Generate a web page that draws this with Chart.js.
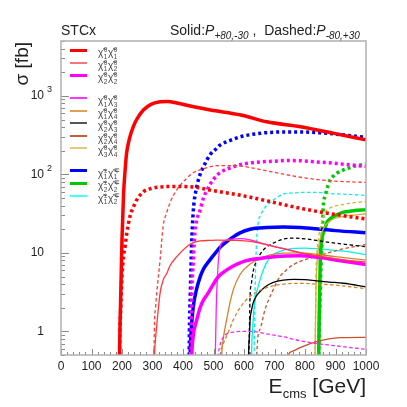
<!DOCTYPE html>
<html><head><meta charset="utf-8">
<script src="https://cdn.jsdelivr.net/npm/chart.js@4.4.1/dist/chart.umd.min.js"></script>
<style>
body{margin:0;background:#fff}
#wrap{position:relative;width:407px;height:407px;font-family:"Liberation Sans",Arial,Helvetica,sans-serif;color:#222;overflow:hidden}
canvas{position:absolute;left:0;top:0}
.t{position:absolute;white-space:nowrap}
.lg{position:absolute;left:70px;width:17px}
.ll{position:absolute;left:98px;font-size:10px;line-height:10px;color:#444;white-space:nowrap}
.chi{display:inline-block;position:relative}
.ss{display:inline-flex;flex-direction:column;font-size:6.5px;line-height:6.5px;vertical-align:middle;margin-left:0.5px;margin-right:0.5px;text-align:left}
</style></head><body>
<div id="wrap">
<canvas id="c" width="407" height="407"></canvas>
<div class="t" style="left:61px;top:23px;font-size:14px;line-height:14px">STCx</div>
<div class="t" style="left:170px;top:23px;font-size:14px;line-height:14px">Solid:<i>P</i><span style="font-size:10px;font-style:italic;position:relative;top:4px">+80,-30</span> ,&nbsp;&nbsp;Dashed:<i>P</i><span style="font-size:10px;font-style:italic;position:relative;top:4px">-80,+30</span></div>
<div class="t" style="left:12px;top:112px;width:70px;text-align:right;font-size:19px;line-height:19px;transform:rotate(-90deg);transform-origin:0 0">σ [fb]</div>
<div class="t" style="right:41px;top:375px;font-size:21px;line-height:21px">E<span style="font-size:13px;position:relative;top:5px">cms</span> [GeV]</div>
<div id="legend"></div>
</div>
<script>
// ---------------- data ----------------
const E_N11 = [190, 192, 196, 200, 205, 210, 215, 226, 237, 248, 270, 295, 325, 350, 380, 435, 490, 590, 675, 785, 895, 1000];
const S_N11_SOLID = [0.05, 0.5, 3, 15, 55, 110, 185, 300, 405, 500, 660, 780, 840, 850, 810, 725, 660, 570, 467, 404, 333, 275];
const S_N11_DASHED = [0.05, 0.5, 2, 5, 9, 12, 17, 29, 38, 47, 60, 66, 69, 70, 70, 69, 63, 54, 46, 37, 31, 27];

const E_N12 = [303, 306, 310, 314, 325, 335, 347, 357, 379, 412, 434, 456, 489, 511, 576, 620, 700, 800, 900, 1000];
const S_N12_SOLID = [0.05, 0.4, 0.8, 1.2, 3.1, 4.5, 5.5, 6.8, 8.9, 12, 13.5, 14.2, 14.4, 14.5, 14.4, 14, 12, 9.8, 8.4, 7.6];
const S_N12_DASHED = [0.05, 1, 2, 3.1, 8.2, 22, 33, 43, 63, 89, 105, 114, 125, 129, 129, 122, 106, 90, 82, 79];

const E_N22 = [424, 428, 434, 439, 445, 456, 467, 478, 489, 511, 521, 565, 600, 652, 700, 740, 784, 850, 900, 1000];
const S_N22_SOLID = [0.05, 0.4, 0.9, 1.15, 1.4, 2.0, 2.5, 2.9, 3.4, 4.7, 5.2, 6.8, 7.8, 8.5, 8.9, 9.1, 9.2, 8.7, 8.1, 7.1];
const S_N22_DASHED = [0.05, 1.9, 8.1, 18, 26, 35, 50, 62, 75, 97, 105, 125, 136, 144, 147, 150, 149, 143, 138, 126];

const E_N13 = [503, 506, 509, 513, 516, 520, 523, 533, 543, 565, 587, 620, 674, 730, 784, 838, 893, 1000];
const S_N13_SOLID = [0.05, 0.5, 2, 5, 8, 11, 12.5, 14, 14.6, 15, 15.2, 14.6, 12.7, 11.3, 10, 9, 8.2, 7.1];
const S_N13_DASHED = [0.05, 0.05, 0.05, 0.2, 0.5, 0.62, 0.71, 0.85, 0.93, 0.98, 1.0, 1.0, 0.93, 0.85, 0.76, 0.7, 0.66, 0.59];

const E_N14 = [520, 524, 527, 532, 543, 554, 565, 587, 620, 674, 730, 784, 838, 893, 1000];
const S_N14_SOLID = [0.05, 0.2, 0.5, 0.8, 1.4, 2.3, 3.4, 5.3, 7.2, 9.1, 9.9, 10, 9.6, 9.0, 8.1];
const S_N14_DASHED = [0.05, 0.55, 0.62, 0.7, 0.87, 1.1, 1.4, 2.0, 2.8, 3.6, 4.0, 4.1, 4.0, 3.9, 3.5];

const E_N23 = [612, 615, 618, 620, 624, 630, 640, 652, 670, 696, 729, 762, 800, 838, 880, 926, 1000];
const S_N23_SOLID = [0.05, 0.5, 0.9, 1.4, 1.8, 2.3, 2.8, 3.2, 3.7, 4.2, 4.5, 4.6, 4.55, 4.4, 4.25, 4.1, 3.7];
const S_N23_DASHED = [0.05, 0.3, 1.2, 2.9, 4, 5.8, 7.7, 9.5, 11.5, 13.3, 15.0, 15.4, 15.1, 14.4, 13.6, 12.9, 12];

const E_N24 = [640, 642, 652, 669, 691, 718, 740, 745, 760, 784, 838, 915, 1000];
const S_N24_SOLID = [0.05, 0.05, 0.05, 0.05, 0.05, 0.05, 0.3, 0.5, 0.56, 0.62, 0.74, 0.83, 0.84];
const S_N24_DASHED = [0.05, 0.5, 1.05, 1.9, 3.1, 5.0, 6.1, 6.4, 7.0, 7.8, 9.0, 11, 12.8];

const E_N34 = [831, 833, 836, 840, 845, 855, 869, 880, 893, 935, 948, 1000];
const S_N34_SOLID = [0.05, 0.5, 3, 8, 12, 18, 23, 25, 27, 29.5, 30, 31.5];
const S_N34_DASHED = [0.05, 0.5, 5, 11, 16, 25, 34, 37, 39, 42, 43, 45];

const E_C11 = [418, 421, 424, 428, 434, 445, 456, 467, 489, 511, 521, 565, 587, 620, 674, 730, 784, 850, 900, 1000];
const S_C11_SOLID = [0.05, 0.3, 0.6, 1.2, 2.1, 3.5, 4.9, 6.2, 8.2, 10.5, 11.7, 16, 18, 20, 21, 21.3, 21, 20, 19.2, 18];
const S_C11_DASHED = [0.05, 1, 3.1, 12, 35, 69, 100, 125, 178, 215, 235, 280, 300, 320, 340, 347, 347, 338, 326, 296];

const E_C22 = [842, 845, 847, 850, 852, 855, 858, 860, 866, 871, 882, 893, 904, 926, 948, 959, 1000];
const S_C22_SOLID = [0.05, 0.5, 2, 8, 12, 15, 17, 18, 21, 24, 27, 29, 30.5, 33, 34, 34.5, 35.5];
const S_C22_DASHED = [0.05, 0.5, 1.2, 3, 6, 12, 24, 39, 53, 63, 85, 95, 103, 114, 122, 126, 135];

const E_C12 = [623, 625, 628, 630, 633, 636, 640, 647, 652, 663, 674, 696, 729, 762, 800, 838, 880, 926, 1000];
const S_C12_SOLID = [0.05, 0.5, 1.0, 1.4, 2.0, 2.5, 3.0, 3.8, 4.5, 6, 7.5, 9.5, 10.8, 11.4, 11.5, 11.3, 10.9, 10.5, 9.5];
const S_C12_DASHED = [0.05, 0.05, 0.05, 0.2, 0.5, 3, 11, 25, 29, 35, 40, 47, 56, 58, 59, 59, 57, 56, 54];

const xTickValues = [0, 100, 200, 300, 400, 500, 600, 700, 800, 900, 1000];
const xTickLabels = ['0', '100', '200', '300', '400', '500', '600', '700', '800', '900', '1000'];
const yTickValues = [1, 10, 100, 1000];
const yTickBase = ['1', '10', '10', '10'];
const yTickExp = ['', '', '2', '3'];

const legendSup = [['0','0'],['0','0'],['0','0'],['0','0'],['0','0'],['0','0'],['0','0'],['0','0'],['±','∓'],['±','∓'],['±','∓']];
const legendSub = [['1','1'],['1','2'],['2','2'],['1','3'],['1','4'],['2','3'],['2','4'],['3','4'],['1','1'],['2','2'],['1','2']];

// ---------------- styles ----------------
const processes = [
  {E: E_N11, solid: S_N11_SOLID, dashed: S_N11_DASHED, color: '#ff0000', legendColor: '#ff0000', thick: true},
  {E: E_N12, solid: S_N12_SOLID, dashed: S_N12_DASHED, color: '#ff3b3b', legendColor: '#f47878', thick: false},
  {E: E_N22, solid: S_N22_SOLID, dashed: S_N22_DASHED, color: '#ff00ff', legendColor: '#ff00ff', thick: true},
  {E: E_N13, solid: S_N13_SOLID, dashed: S_N13_DASHED, color: '#ff1eff', legendColor: '#ff33ff', thick: false},
  {E: E_N14, solid: S_N14_SOLID, dashed: S_N14_DASHED, color: '#d4822a', legendColor: '#e0a055', thick: false},
  {E: E_N23, solid: S_N23_SOLID, dashed: S_N23_DASHED, color: '#000000', legendColor: '#555555', thick: false},
  {E: E_N24, solid: S_N24_SOLID, dashed: S_N24_DASHED, color: '#c8502a', legendColor: '#c86040', thick: false},
  {E: E_N34, solid: S_N34_SOLID, dashed: S_N34_DASHED, color: '#d9b030', legendColor: '#e2c878', thick: false},
  {E: E_C11, solid: S_C11_SOLID, dashed: S_C11_DASHED, color: '#0000ff', legendColor: '#0000ff', thick: true},
  {E: E_C22, solid: S_C22_SOLID, dashed: S_C22_DASHED, color: '#00c800', legendColor: '#00c800', thick: true},
  {E: E_C12, solid: S_C12_SOLID, dashed: S_C12_DASHED, color: '#00f0f0', legendColor: '#44ffff', thick: false}
];
const legendRowY = [50, 62.5, 75, 98, 110.5, 123, 135.5, 148, 170.5, 183, 195.5];

const datasets = [];
processes.forEach(p => {
  const mk = (vals, dashed) => ({
    data: p.E.map((e, i) => ({x: e, y: vals[i]})),
    borderColor: p.color,
    borderWidth: p.thick ? 3.5 : 1.3,
    borderDash: dashed ? (p.thick ? [3, 3] : [3.5, 2.5]) : [],
    pointRadius: 0,
    fill: false,
    cubicInterpolationMode: 'monotone'
  });
  datasets.push(mk(p.solid, false));
  datasets.push(mk(p.dashed, true));
});

// ---------------- legend (HTML text) ----------------
const lg = document.getElementById('legend');
processes.forEach((p, i) => {
  const w = p.thick ? 3 : 2;
  const line = document.createElement('div');
  line.className = 'lg';
  line.style.top = (legendRowY[i] - w / 2) + 'px';
  line.style.height = w + 'px';
  line.style.background = p.legendColor;
  lg.appendChild(line);
  const lab = document.createElement('div');
  lab.className = 'll';
  lab.style.top = (legendRowY[i] - 3) + 'px';
  let html = '';
  for (let k = 0; k < 2; k++) {
    html += '<span class="chi">χ̃</span><span class="ss"><span>' + legendSup[i][k] + '</span><span>' + legendSub[i][k] + '</span></span>';
  }
  lab.innerHTML = html;
  lg.appendChild(lab);
});

// ---------------- ROOT-like axes ----------------
const rootAxes = {
  id: 'rootAxes',
  afterDraw(chart) {
    const {ctx, chartArea: a, scales: {x, y}} = chart;
    ctx.save();
    ctx.strokeStyle = '#8a8a8a';
    ctx.lineWidth = 1;
    ctx.beginPath();
    for (let v = x.min; v <= x.max; v += 20) {
      const px = Math.round(x.getPixelForValue(v)) + 0.5;
      const len = v % 100 === 0 ? 6 : 3;
      ctx.moveTo(px, a.bottom);
      ctx.lineTo(px, a.bottom - len);
    }
    [0.1, 1, 10, 100, 1000].forEach(d => {
      for (let m = 1; m <= 9; m++) {
        const v = m * d;
        if (v < y.min || v > y.max) continue;
        const py = Math.round(y.getPixelForValue(v)) + 0.5;
        const len = m === 1 ? 8 : 4;
        ctx.moveTo(a.left, py);
        ctx.lineTo(a.left + len, py);
      }
    });
    ctx.stroke();
    ctx.strokeStyle = '#b0b0b0';
    ctx.lineWidth = 1.5;
    ctx.strokeRect(a.left, a.top, a.right - a.left, a.bottom - a.top);
    ctx.fillStyle = '#222';
    ctx.textBaseline = 'middle';
    yTickValues.forEach((v, i) => {
      const py = y.getPixelForValue(v);
      ctx.font = '12px "Liberation Sans", Arial, sans-serif';
      ctx.textAlign = 'right';
      ctx.fillText(yTickBase[i], a.left - 17, py);
      if (yTickExp[i]) {
        ctx.font = '9px "Liberation Sans", Arial, sans-serif';
        ctx.textAlign = 'left';
        ctx.fillText(yTickExp[i], a.left - 14, py - 6);
      }
    });
    ctx.restore();
  }
};

new Chart(document.getElementById('c'), {
  type: 'line',
  data: {datasets},
  options: {
    responsive: false,
    animation: false,
    devicePixelRatio: 1,
    layout: {padding: {left: 0, top: 41, right: 41, bottom: 0}},
    plugins: {legend: {display: false}, tooltip: {enabled: false}},
    scales: {
      x: {
        type: 'linear', min: 0, max: 1000,
        afterBuildTicks: s => { s.ticks = xTickValues.map(v => ({value: v})); },
        afterFit: s => { s.height = 52; },
        grid: {display: false, drawTicks: false},
        border: {display: false},
        ticks: {
          color: '#222', font: {family: '"Liberation Sans", Arial, sans-serif', size: 12}, padding: 4, maxRotation: 0, autoSkip: false,
          callback: (v) => { const i = xTickValues.indexOf(v); return i >= 0 ? xTickLabels[i] : ''; }
        }
      },
      y: {
        type: 'logarithmic', min: 0.5, max: 5000,
        afterFit: s => { s.width = 61; },
        grid: {display: false, drawTicks: false},
        border: {display: false},
        ticks: {display: false}
      }
    }
  },
  plugins: [rootAxes]
});
</script>
</body></html>
